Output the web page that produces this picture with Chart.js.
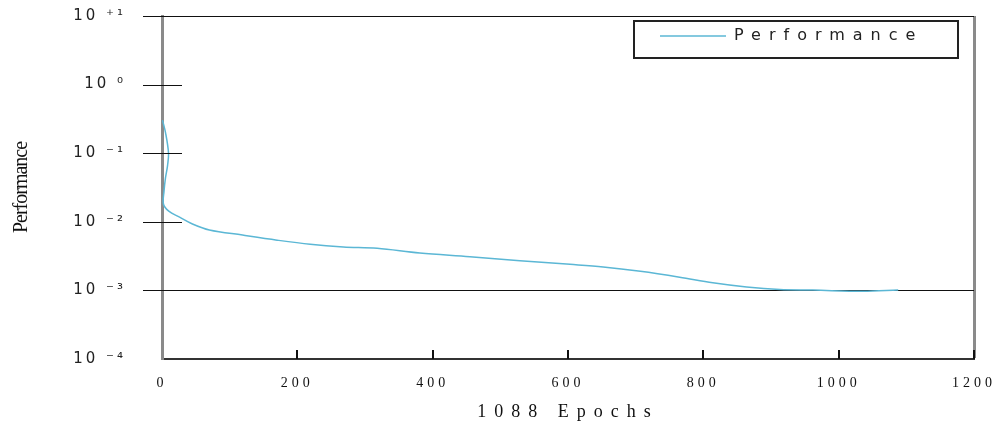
<!DOCTYPE html>
<html>
<head>
<meta charset="utf-8">
<script src="https://cdn.jsdelivr.net/npm/chart.js@4.4.1/dist/chart.umd.min.js"></script>
<style>
html,body{margin:0;padding:0;background:#fff;}
#wrap{width:1006px;height:423px;}
</style>
</head>
<body>
<div id="wrap"><canvas id="c" width="1006" height="423"></canvas></div>
<script>
// ---- data ----
const epochs      = [0.7, 5.2, 9.6, 8.2, 5.2, 3.0, 2.2, 10, 26, 45, 70, 119, 170, 219, 268, 318, 381, 455, 529, 603, 652, 707, 765, 814, 864, 913, 962, 1036, 1088];
const performance = [0.304, 0.20, 0.101, 0.066, 0.044, 0.028, 0.018, 0.0143, 0.0117, 0.0093, 0.0076, 0.0064, 0.0054, 0.0047, 0.0043, 0.0041, 0.0035, 0.0031, 0.0027, 0.0024, 0.0022, 0.0019, 0.00156, 0.00129, 0.00112, 0.00103, 0.00101, 0.00097, 0.00101];
const yTickValues = [1e-4, 1e-3, 1e-2, 1e-1, 1, 10];
const yTickLabels = ['10 \u207B\u2074', '10 \u207B\u00B3', '10 \u207B\u00B2', '10 \u207B\u00B9', '10 \u2070', '10 \u207A\u00B9'];
const xTickValues = [0, 200, 400, 600, 800, 1000, 1200];
const goalValue = 1e-3;
const seriesLabel = 'Performance';
const xTitle = '1088 Epochs';
const yTitle = 'Performance';

// letter spacing per font size (the reference text is widely spaced)
const SPACING = {'15': '3px', '16': '8px', '14': '4px', '18': '8px', '20': '-1px'};
const canvas = document.getElementById('c');
const ctx2d = canvas.getContext('2d');
['fillText', 'strokeText', 'measureText'].forEach(fn => {
  const orig = ctx2d[fn];
  ctx2d[fn] = function (...args) {
    const m = /(\d+(?:\.\d+)?)px/.exec(this.font);
    const prev = this.letterSpacing;
    this.letterSpacing = (m && SPACING[m[1]]) || '0px';
    const r = orig.apply(this, args);
    this.letterSpacing = prev;
    return r;
  };
});

const innerTicks = {
  id: 'innerTicks',
  afterDraw(chart) {
    const {ctx, chartArea: ca, scales: {x, y}} = chart;
    ctx.save();
    ctx.strokeStyle = '#111';
    ctx.lineWidth = 1;
    yTickValues.forEach(v => {
      if (v === y.min) return;
      const py = Math.round(y.getPixelForValue(v)) + 0.5;
      ctx.beginPath();
      ctx.moveTo(ca.left - 19, py);
      ctx.lineTo(ca.left + 20, py);
      ctx.stroke();
    });
    ctx.lineWidth = 2;
    xTickValues.forEach(v => {
      if (v === x.min) return;
      const px = Math.round(x.getPixelForValue(v));
      ctx.beginPath();
      ctx.moveTo(px, ca.bottom);
      ctx.lineTo(px, ca.bottom - 9);
      ctx.stroke();
    });
    ctx.restore();
  }
};

const legendFrame = {
  id: 'legendFrame',
  beforeDraw(chart) {
    const lg = chart.legend, ca = chart.chartArea;
    const pad = lg.options.labels.padding;
    const fx = ca.right - 340;
    const left = fx + 26 - pad;
    const top = ca.top + 20 - 8 - pad;
    lg.right = left + (lg.right - lg.left);
    lg.left = left;
    lg.bottom = top + (lg.bottom - lg.top);
    lg.top = top;
  },
  afterDraw(chart) {
    const {ctx, chartArea: ca} = chart;
    ctx.save();
    ctx.strokeStyle = '#222';
    ctx.lineWidth = 2;
    ctx.strokeRect(ca.right - 340, ca.top + 5, 324, 37);
    ctx.restore();
  }
};

new Chart(ctx2d, {
  type: 'line',
  data: {
    datasets: [{
      label: seriesLabel,
      data: epochs.map((e, i) => ({x: e, y: performance[i]})),
      borderColor: '#5bb7d5',
      backgroundColor: '#5bb7d5',
      borderWidth: 1.5,
      pointRadius: 0,
      tension: 0.35,
      fill: false
    }]
  },
  options: {
    responsive: false,
    animation: false,
    devicePixelRatio: 1,
    layout: {padding: {left: 0, right: 32, top: 16, bottom: 0}},
    plugins: {
      tooltip: {enabled: false},
      legend: {
        position: 'chartArea',
        align: 'start',
        labels: {
          usePointStyle: true,
          pointStyle: 'line',
          pointStyleWidth: 66,
          boxHeight: 16,
          padding: 10,
          color: '#222',
          font: {family: 'DejaVu Sans', size: 16}
        }
      }
    },
    scales: {
      x: {
        type: 'linear',
        min: 0, max: 1200,
        afterBuildTicks: s => { s.ticks = xTickValues.map(v => ({value: v})); },
        afterFit: s => { s.height = 64; },
        ticks: {
          font: {family: 'Liberation Serif', size: 14}, color: '#111', padding: 3, maxRotation: 0, autoSkip: false,
          callback: v => String(v)
        },
        grid: {
          drawOnChartArea: true,
          drawTicks: true,
          tickLength: 13,
          tickColor: 'rgba(0,0,0,0)',
          color: c => (c.tick && c.tick.value === 1200) ? '#8a8a8a' : 'rgba(0,0,0,0)',
          lineWidth: c => (c.tick && c.tick.value === 1200) ? 3 : 1
        },
        border: {color: '#333', width: 2},
        title: {display: true, text: xTitle, color: '#111', font: {family: 'Liberation Serif', size: 18}, padding: {top: 0, bottom: 0}}
      },
      y: {
        type: 'logarithmic',
        min: 1e-4, max: 10,
        afterBuildTicks: s => { s.ticks = yTickValues.map(v => ({value: v})); },
        afterFit: s => { s.width = 162; },
        ticks: {
          autoSkip: false,
          padding: 4,
          color: '#222',
          font: {family: 'DejaVu Sans', size: 15},
          callback: v => { const i = yTickValues.indexOf(v); return i >= 0 ? yTickLabels[i] : ''; }
        },
        grid: {
          drawTicks: true,
          tickLength: 32,
          tickColor: 'rgba(0,0,0,0)',
          color: c => (c.tick && (c.tick.value === goalValue || c.tick.value === 10)) ? '#111' : 'rgba(0,0,0,0)',
          lineWidth: 1
        },
        border: {color: '#8a8a8a', width: 3},
        title: {display: true, text: yTitle, color: '#111', font: {family: 'Liberation Serif', size: 20}, padding: {top: 10, bottom: 0}}
      }
    }
  },
  plugins: [innerTicks, legendFrame]
});
</script>
</body>
</html>
